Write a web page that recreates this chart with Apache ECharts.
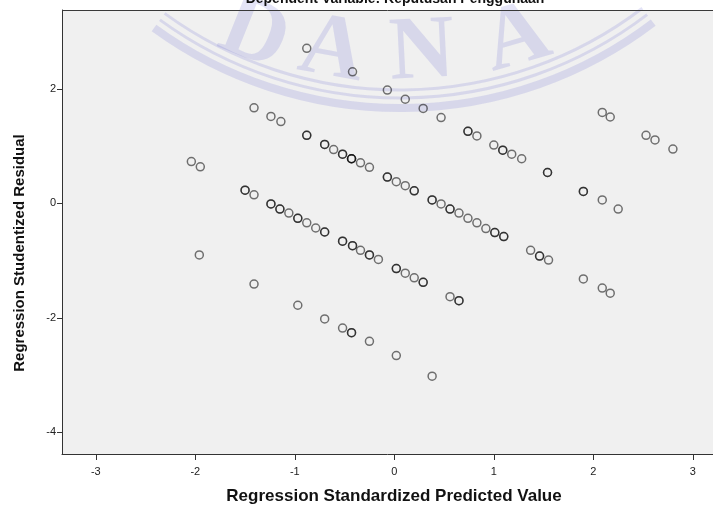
<!DOCTYPE html>
<html>
<head>
<meta charset="utf-8">
<script src="https://cdn.jsdelivr.net/npm/echarts@6/dist/echarts.min.js"></script>
<style>
html,body{margin:0;padding:0;background:#fff;}
#chart{width:713px;height:509px;}
</style>
</head>
<body>
<div id="chart"></div>
<script>
// Regression Standardized Predicted Value (x) and Studentized Residual (y)
// Repeated pairs are overlapping cases (drawn darker in the reference).
const predicted = [
  -0.88, -0.42, -0.07, 0.11, 0.29, 0.47,
  -1.41, -1.24, -1.14, -0.88, -0.88, -0.70, -0.70, -0.61, -0.52, -0.52, -0.43, -0.43, -0.43, -0.34, -0.25,
  -2.04, -1.95,
  0.74, 0.74, 0.83, 1.00, 1.09, 1.09, 1.18, 1.28, 1.54, 1.54, 1.90, 1.90, 2.09, 2.25,
  2.09, 2.17, 2.53, 2.62, 2.80,
  -0.07, -0.07, 0.02, 0.11, 0.20, 0.20, 0.38, 0.38, 0.47, 0.56, 0.56, 0.65, 0.74, 0.83, 0.92, 1.01, 1.01, 1.10, 1.10, 1.37, 1.46, 1.46, 1.55, 1.90, 2.09, 2.17,
  -1.50, -1.50, -1.41, -1.24, -1.24, -1.15, -1.15, -1.06, -0.97, -0.97, -0.88, -0.79, -0.70, -0.70, -0.52, -0.52, -0.42, -0.42, -0.34, -0.25, -0.25, -0.16, 0.02, 0.02, 0.11, 0.20, 0.29, 0.29, 0.56, 0.65, 0.65,
  -1.96, -1.41, -0.97, -0.70, -0.52, -0.43, -0.43, -0.25, 0.02, 0.38
];
const residual = [
  2.71, 2.30, 1.98, 1.82, 1.66, 1.50,
  1.67, 1.52, 1.43, 1.19, 1.19, 1.03, 1.03, 0.94, 0.86, 0.86, 0.78, 0.78, 0.78, 0.71, 0.63,
  0.73, 0.64,
  1.26, 1.26, 1.18, 1.02, 0.93, 0.93, 0.86, 0.78, 0.54, 0.54, 0.21, 0.21, 0.06, -0.10,
  1.59, 1.51, 1.19, 1.11, 0.95,
  0.46, 0.46, 0.38, 0.31, 0.22, 0.22, 0.06, 0.06, -0.01, -0.10, -0.10, -0.17, -0.26, -0.34, -0.44, -0.51, -0.51, -0.58, -0.58, -0.82, -0.92, -0.92, -0.99, -1.32, -1.48, -1.57,
  0.23, 0.23, 0.15, -0.01, -0.01, -0.10, -0.10, -0.17, -0.26, -0.26, -0.34, -0.43, -0.50, -0.50, -0.66, -0.66, -0.74, -0.74, -0.82, -0.90, -0.90, -0.98, -1.14, -1.14, -1.22, -1.30, -1.38, -1.38, -1.63, -1.70, -1.70,
  -0.90, -1.41, -1.78, -2.02, -2.18, -2.26, -2.26, -2.41, -2.66, -3.02
];
const xTicks = [-3, -2, -1, 0, 1, 2, 3];
const yTicks = [-4, -2, 0, 2];
const titleText = 'Dependent Variable: Keputusan Penggunaan';
const xTitle = 'Regression Standardized Predicted Value';
const yTitle = 'Regression Studentized Residual';

const points = predicted.map((x, i) => [x, residual[i]]);
const chart = echarts.init(document.getElementById('chart'), null, {renderer: 'canvas'});
const FONT = '"Liberation Sans", Arial, sans-serif';
const wm = 'rgba(95,95,205,0.17)';
const wmFont = 'bold 90px "Liberation Serif", serif';

chart.setOption({
  animation: false,
  backgroundColor: '#ffffff',
  grid: {
    left: 62, top: 10, right: 0, height: 444,
    show: true, backgroundColor: '#f0f0f0', borderWidth: 0
  },
  xAxis: {
    type: 'value', min: -3.34, max: 3.203,
    axisLine: {show: true, onZero: false, lineStyle: {color: '#333', width: 1}},
    axisTick: {show: true, customValues: xTicks, length: 6, lineStyle: {color: '#333'}},
    axisLabel: {customValues: xTicks, fontSize: 11, color: '#222', margin: 12, fontFamily: FONT},
    splitLine: {show: false}
  },
  yAxis: {
    type: 'value', min: -4.38, max: 3.38,
    axisLine: {show: true, onZero: false, lineStyle: {color: '#333', width: 1}},
    axisTick: {show: true, customValues: yTicks, length: 5, lineStyle: {color: '#333'}},
    axisLabel: {customValues: yTicks, fontSize: 11, color: '#222', margin: 6, fontFamily: FONT},
    splitLine: {show: false}
  },
  series: [{
    type: 'scatter',
    data: points,
    symbol: 'circle',
    symbolSize: 8,
    z: 5,
    itemStyle: {color: 'rgba(0,0,0,0)', borderColor: 'rgba(0,0,0,0.68)', borderWidth: 1.5},
    emphasis: {disabled: true}
  }],
  graphic: [
    // top frame line of the plot area
    {type: 'line', z: 2, shape: {x1: 62, y1: 10.5, x2: 713, y2: 10.5}, style: {stroke: '#3a3a3a', lineWidth: 1}},
    // watermark arcs
    {type: 'arc', z: 1, shape: {cx: 400, cy: -310, r: 400, startAngle: 0.92, endAngle: 2.2}, style: {fill: 'none', stroke: wm, lineWidth: 3}},
    {type: 'arc', z: 1, shape: {cx: 400, cy: -310, r: 408, startAngle: 0.92, endAngle: 2.2}, style: {fill: 'none', stroke: wm, lineWidth: 3}},
    {type: 'arc', z: 1, shape: {cx: 400, cy: -310, r: 418, startAngle: 0.92, endAngle: 2.2}, style: {fill: 'none', stroke: wm, lineWidth: 8}},
    // watermark letters
    {type: 'text', z: 1, x: 254, y: 36, rotation: -0.38, style: {text: 'D', font: wmFont, fill: wm, align: 'center', verticalAlign: 'middle'}},
    {type: 'text', z: 1, x: 332, y: 52, rotation: -0.18, style: {text: 'A', font: wmFont, fill: wm, align: 'center', verticalAlign: 'middle'}},
    {type: 'text', z: 1, x: 422, y: 54, rotation: 0.05, style: {text: 'N', font: wmFont, fill: wm, align: 'center', verticalAlign: 'middle'}},
    {type: 'text', z: 1, x: 517, y: 40, rotation: 0.28, style: {text: 'A', font: wmFont, fill: wm, align: 'center', verticalAlign: 'middle'}},
    // title (cut off at the top)
    {type: 'text', z: 3, x: 395, y: -1, style: {text: titleText, font: 'bold 14px ' + FONT, fill: '#111', align: 'center', verticalAlign: 'middle'}},
    // axis titles
    {type: 'text', z: 3, x: 394, y: 496, style: {text: xTitle, font: 'bold 17px ' + FONT, fill: '#111', align: 'center', verticalAlign: 'middle'}},
    {type: 'text', z: 3, x: 20, y: 253, rotation: Math.PI / 2, style: {text: yTitle, font: 'bold 15px ' + FONT, fill: '#111', align: 'center', verticalAlign: 'middle'}}
  ]
});
</script>
</body>
</html>
